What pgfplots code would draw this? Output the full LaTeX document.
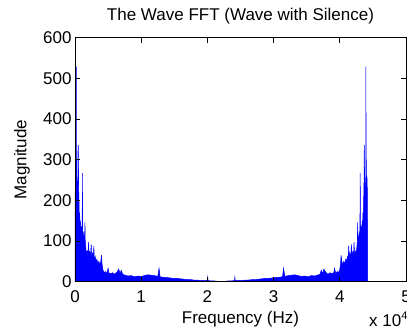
\documentclass[border=0pt]{standalone}
\usepackage{fontspec}
\setmainfont{Liberation Sans}
\usepackage{pgfplots}
\pgfplotsset{compat=1.18}
\begin{document}
\begin{tikzpicture}[font=\fontsize{17}{20}\selectfont]
\begin{axis}[
  scale only axis, width=331pt, height=244pt,
  xmin=0, xmax=5, ymin=0, ymax=600,
  xtick={0,1,2,3,4,5}, ytick={0,100,...,600},
  tick align=inside, major tick length=5pt,
  /pgf/number format/assume math mode=true,
  tick label style={font=\fontsize{17}{20}\selectfont},
  xticklabel style={anchor=base, yshift=-21pt},
  title={The Wave FFT (Wave with Silence)},
  title style={at={(0.5,1)}, anchor=base, yshift=11pt},
  xlabel={Frequency (Hz)},
  xlabel style={at={(0.5,0)}, anchor=base, yshift=-42pt},
  ylabel={Magnitude},
  ylabel style={at={(-0.16,0.5)}, anchor=center},
  axis line style={line width=0.6pt},
  every tick/.style={black, line width=0.6pt},
  axis on top,
]
\addplot[draw=blue, fill=blue, line width=0.5pt] coordinates {
(0.000,0) (0.002,200) (0.005,230) (0.010,260) (0.015,240) (0.020,300) (0.023,250) (0.025,529)
(0.027,260) (0.032,240) (0.040,230) (0.045,250) (0.050,336) (0.055,230) (0.060,200) (0.065,160)
(0.070,170) (0.075,140) (0.080,150) (0.090,130) (0.100,135) (0.108,130) (0.112,267) (0.116,125)
(0.125,120) (0.135,110) (0.145,105) (0.150,146) (0.155,100) (0.165,80) (0.175,70) (0.185,75)
(0.195,60) (0.205,97) (0.212,60) (0.222,75) (0.232,55) (0.245,92) (0.252,60) (0.265,70)
(0.275,55) (0.285,88) (0.292,55) (0.305,62) (0.318,50) (0.330,55) (0.345,45) (0.360,50)
(0.375,42) (0.390,50) (0.400,65) (0.408,45) (0.420,30) (0.440,22) (0.460,25) (0.480,20)
(0.500,33) (0.510,22) (0.540,20) (0.570,22) (0.600,18) (0.640,25) (0.660,31) (0.680,20)
(0.700,28) (0.720,18) (0.760,16) (0.800,14) (0.850,15) (0.900,12) (0.950,14) (1.000,13)
(1.050,15) (1.100,17) (1.150,16) (1.200,15) (1.250,13) (1.270,33) (1.285,12) (1.330,11)
(1.400,10) (1.450,9) (1.500,8) (1.550,8) (1.600,7) (1.650,6) (1.700,5) (1.750,5)
(1.800,4) (1.850,4) (1.900,3) (1.950,3) (2.000,3) (2.005,11) (2.010,3) (2.050,2)
(2.100,2) (2.150,1) (2.210,1)
(2.270,1) (2.320,2) (2.370,2) (2.410,3) (2.415,11) (2.420,3) (2.470,3) (2.520,3)
(2.570,4) (2.620,4) (2.670,5) (2.720,5) (2.770,6) (2.820,7) (2.870,8) (2.920,8)
(2.970,9) (3.020,10) (3.090,11) (3.135,12) (3.150,33) (3.170,13) (3.220,15) (3.270,16)
(3.320,17) (3.370,15) (3.420,13) (3.470,14) (3.520,12) (3.570,15) (3.620,14) (3.660,16)
(3.700,18) (3.720,28) (3.740,20) (3.760,31) (3.780,25) (3.820,18) (3.850,22) (3.880,20)
(3.910,22) (3.920,33) (3.940,20) (3.960,25) (3.980,22) (4.000,30) (4.012,45) (4.020,65)
(4.030,50) (4.045,42) (4.060,50) (4.075,45) (4.090,55) (4.102,50) (4.115,62) (4.128,55)
(4.135,88) (4.145,55) (4.155,70) (4.168,60) (4.175,92) (4.188,55) (4.198,75) (4.208,60)
(4.215,97) (4.225,60) (4.235,75) (4.245,70) (4.255,80) (4.265,100) (4.270,146) (4.275,105)
(4.285,110) (4.295,120) (4.304,125) (4.308,267) (4.312,130) (4.320,135) (4.330,130) (4.340,150)
(4.345,140) (4.350,170) (4.355,160) (4.360,200) (4.365,230) (4.370,336) (4.375,250) (4.380,230)
(4.388,240) (4.393,260) (4.395,529) (4.397,250) (4.400,300) (4.405,240) (4.410,260) (4.415,230)
(4.418,200) (4.420,0)
} \closedcycle;
\coordinate (O) at (rel axis cs:0,0);
\end{axis}
\node[anchor=base west, inner sep=0pt] at ([xshift=294pt, yshift=-45pt]O) {x 10\raisebox{7pt}{\fontsize{11}{11}\selectfont 4}};
\pgfresetboundingbox
\path (O) ++(-75pt,-49.3pt) rectangle ++(407pt,331pt);
\end{tikzpicture}
\end{document}
